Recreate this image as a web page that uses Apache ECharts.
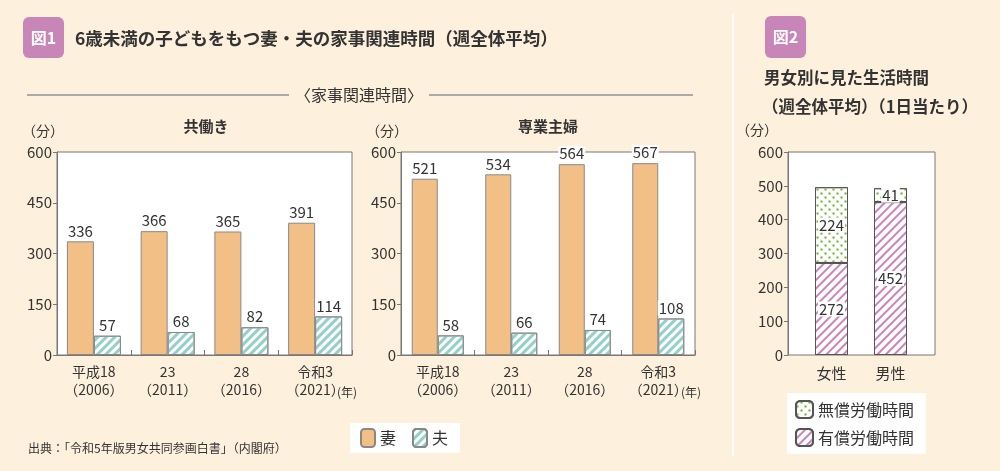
<!DOCTYPE html>
<html>
<head>
<meta charset="utf-8">
<script src="https://cdn.jsdelivr.net/npm/echarts@6/dist/echarts.min.js"></script>
<style>
  html, body { margin: 0; padding: 0; background: #fdf0dc; }
  #chart { width: 1000px; height: 471px; }
</style>
</head>
<body>
<div id="chart"></div>
<script>
(function() {
  var font = '"Noto Sans CJK JP", "Noto Sans", sans-serif';
  var ink = '#333';
  var border = '#777';

  // 図1 共通カテゴリ
  var years = ['平成18\n（2006）', '23\n（2011）', '28\n（2016）', '令和3\n（2021）'];
  // 共働き
  var dualWife = [336, 366, 365, 391];
  var dualHusband = [57, 68, 82, 114];
  // 専業主婦
  var homeWife = [521, 534, 564, 567];
  var homeHusband = [58, 66, 74, 108];
  var fig1Ticks = [0, 150, 300, 450, 600];

  // 図2
  var sexes = ['女性', '男性'];
  var paidWork = [272, 452];
  var unpaidWork = [224, 41];
  var fig2Ticks = [0, 100, 200, 300, 400, 500, 600];

  var wifeStyle = { color: '#f2bf86', borderColor: '#888', borderWidth: 1 };
  var husbandStyle = {
    color: '#fff', borderColor: '#888', borderWidth: 1,
    decal: { symbol: 'rect', symbolSize: 1, color: '#93d1c8', dashArrayX: [1, 0], dashArrayY: [3, 3], rotation: -Math.PI / 4 }
  };
  var paidStyle = {
    color: '#fff', borderColor: '#555', borderWidth: 1,
    decal: { symbol: 'rect', symbolSize: 1, color: '#cc82bb', dashArrayX: [1, 0], dashArrayY: [2, 4], rotation: -Math.PI / 4 }
  };
  var unpaidStyle = {
    color: '#fff', borderColor: '#555', borderWidth: 1,
    decal: { symbol: 'circle', symbolSize: 0.8, color: '#84bd45', dashArrayX: [[3, 5], [0, 4, 3, 1]], dashArrayY: [3, 1] }
  };

  var topLabel = {
    show: true, position: 'top', distance: 3, color: ink, fontSize: 15, fontFamily: font,
    backgroundColor: '#fff', padding: [0, 1]
  };
  var midLabel = {
    show: true, position: 'inside', color: ink, fontSize: 15, fontFamily: font,
    backgroundColor: '#fff', padding: [0, 1]
  };

  function catAxis(gridIndex) {
    return {
      type: 'category', gridIndex: gridIndex, data: years,
      axisLine: { lineStyle: { color: border } },
      axisTick: { show: true, inside: true, length: 5, interval: 0, lineStyle: { color: border } },
      axisLabel: { color: ink, fontSize: 14, lineHeight: 18, margin: 8, interval: 0, hideOverlap: false, fontFamily: font }
    };
  }
  function valAxis(gridIndex, ticks, showLabel) {
    return {
      type: 'value', gridIndex: gridIndex, min: ticks[0], max: ticks[ticks.length - 1],
      interval: ticks[1] - ticks[0], show: showLabel,
      axisLine: { show: true, lineStyle: { color: border } },
      axisTick: { show: true, length: 4, lineStyle: { color: border } },
      axisLabel: { color: ink, fontSize: 15, margin: 5, fontFamily: font },
      splitLine: { show: false }
    };
  }

  function txt(x, y, s, size, opts) {
    var o = { type: 'text', x: x, y: y, style: { text: s, fill: ink, font: (opts && opts.weight ? opts.weight + ' ' : '') + size + 'px ' + font, align: (opts && opts.align) || 'left', verticalAlign: 'middle' } };
    return o;
  }

  var chart = echarts.init(document.getElementById('chart'));
  chart.setOption({
    animation: false,
    backgroundColor: '#fdf0dc',
    textStyle: { fontFamily: font },
    grid: [
      { left: 57, top: 152, width: 295, height: 203, show: true, backgroundColor: '#fff', borderColor: border },
      { left: 401, top: 152, width: 294, height: 203, show: true, backgroundColor: '#fff', borderColor: border },
      { left: 788, top: 152, width: 147, height: 203, show: true, backgroundColor: '#fff', borderColor: border },
      { left: 802, top: 152, width: 118, height: 203 }
    ],
    xAxis: [
      catAxis(0),
      catAxis(1),
      { type: 'category', gridIndex: 2, data: sexes, show: false },
      {
        type: 'category', gridIndex: 3, data: sexes,
        axisLine: { show: false }, axisTick: { show: false },
        axisLabel: { color: ink, fontSize: 15, margin: 11, fontFamily: font }
      }
    ],
    yAxis: [
      valAxis(0, fig1Ticks, true),
      valAxis(1, fig1Ticks, true),
      valAxis(2, fig2Ticks, true),
      valAxis(3, fig2Ticks, false)
    ],
    legend: [
      {
        data: ['妻', '夫'], left: 350, top: 423, orient: 'horizontal',
        backgroundColor: '#fff', padding: [5, 12, 5, 10], itemWidth: 14, itemHeight: 18, itemGap: 16,
        textStyle: { color: ink, fontSize: 16, fontFamily: font }
      },
      {
        data: ['無償労働時間', '有償労働時間'], left: 787, top: 393, orient: 'vertical',
        backgroundColor: '#fff', padding: [7, 12, 7, 8], itemWidth: 17, itemHeight: 17, itemGap: 9,
        textStyle: { color: ink, fontSize: 16, fontFamily: font }
      }
    ],
    series: [
      { name: '妻', type: 'bar', xAxisIndex: 0, yAxisIndex: 0, data: dualWife, barWidth: 27, barGap: '0%', itemStyle: wifeStyle, label: topLabel },
      { name: '夫', type: 'bar', xAxisIndex: 0, yAxisIndex: 0, data: dualHusband, barWidth: 27, barGap: '0%', itemStyle: husbandStyle, label: topLabel },
      { name: '妻', type: 'bar', xAxisIndex: 1, yAxisIndex: 1, data: homeWife, barWidth: 26, barGap: '0%', itemStyle: wifeStyle, label: topLabel },
      { name: '夫', type: 'bar', xAxisIndex: 1, yAxisIndex: 1, data: homeHusband, barWidth: 26, barGap: '0%', itemStyle: husbandStyle, label: topLabel },
      { name: '有償労働時間', type: 'bar', stack: 'life', xAxisIndex: 3, yAxisIndex: 3, data: paidWork, barWidth: 33, itemStyle: paidStyle, label: midLabel },
      { name: '無償労働時間', type: 'bar', stack: 'life', xAxisIndex: 3, yAxisIndex: 3, data: unpaidWork, barWidth: 33, itemStyle: unpaidStyle, label: midLabel }
    ],
    graphic: [
      { type: 'rect', shape: { x: 23, y: 17, width: 41, height: 41, r: 6 }, style: { fill: '#c885b8' } },
      { type: 'text', x: 43.5, y: 38, style: { text: '図1', fill: '#fff', font: 'bold 16px ' + font, align: 'center', verticalAlign: 'middle' } },
      txt(75, 38, '6歳未満の子どもをもつ妻・夫の家事関連時間（週全体平均）', 17.5, { weight: 'bold' }),
      { type: 'line', shape: { x1: 27, y1: 95, x2: 289, y2: 95 }, style: { stroke: '#aaa', lineWidth: 2 } },
      { type: 'line', shape: { x1: 429, y1: 95, x2: 693, y2: 95 }, style: { stroke: '#aaa', lineWidth: 2 } },
      txt(359, 95, '〈家事関連時間〉', 16, { align: 'center' }),
      txt(206, 126, '共働き', 15, { weight: 'bold', align: 'center' }),
      txt(548, 126, '専業主婦', 15, { weight: 'bold', align: 'center' }),
      txt(43, 131, '（分）', 14, { align: 'center' }),
      txt(387, 131, '（分）', 14, { align: 'center' }),
      txt(757, 130, '（分）', 14, { align: 'center' }),
      txt(347, 392, '(年)', 12, { align: 'center' }),
      txt(691, 392, '(年)', 12, { align: 'center' }),
      txt(28, 448, '出典：「令和5年版男女共同参画白書」（内閣府）', 12),
      { type: 'line', shape: { x1: 733, y1: 14, x2: 733, y2: 456 }, style: { stroke: '#fff', lineWidth: 2 } },
      { type: 'rect', shape: { x: 765, y: 16, width: 41, height: 42, r: 6 }, style: { fill: '#c885b8' } },
      { type: 'text', x: 785.5, y: 37, style: { text: '図2', fill: '#fff', font: 'bold 16px ' + font, align: 'center', verticalAlign: 'middle' } },
      txt(764, 78, '男女別に見た生活時間', 16.5, { weight: 'bold' }),
      txt(762, 107, '（週全体平均）（1日当たり）', 16.5, { weight: 'bold' })
    ]
  });
  window.addEventListener('resize', function() { chart.resize(); });
})();
</script>
</body>
</html>
